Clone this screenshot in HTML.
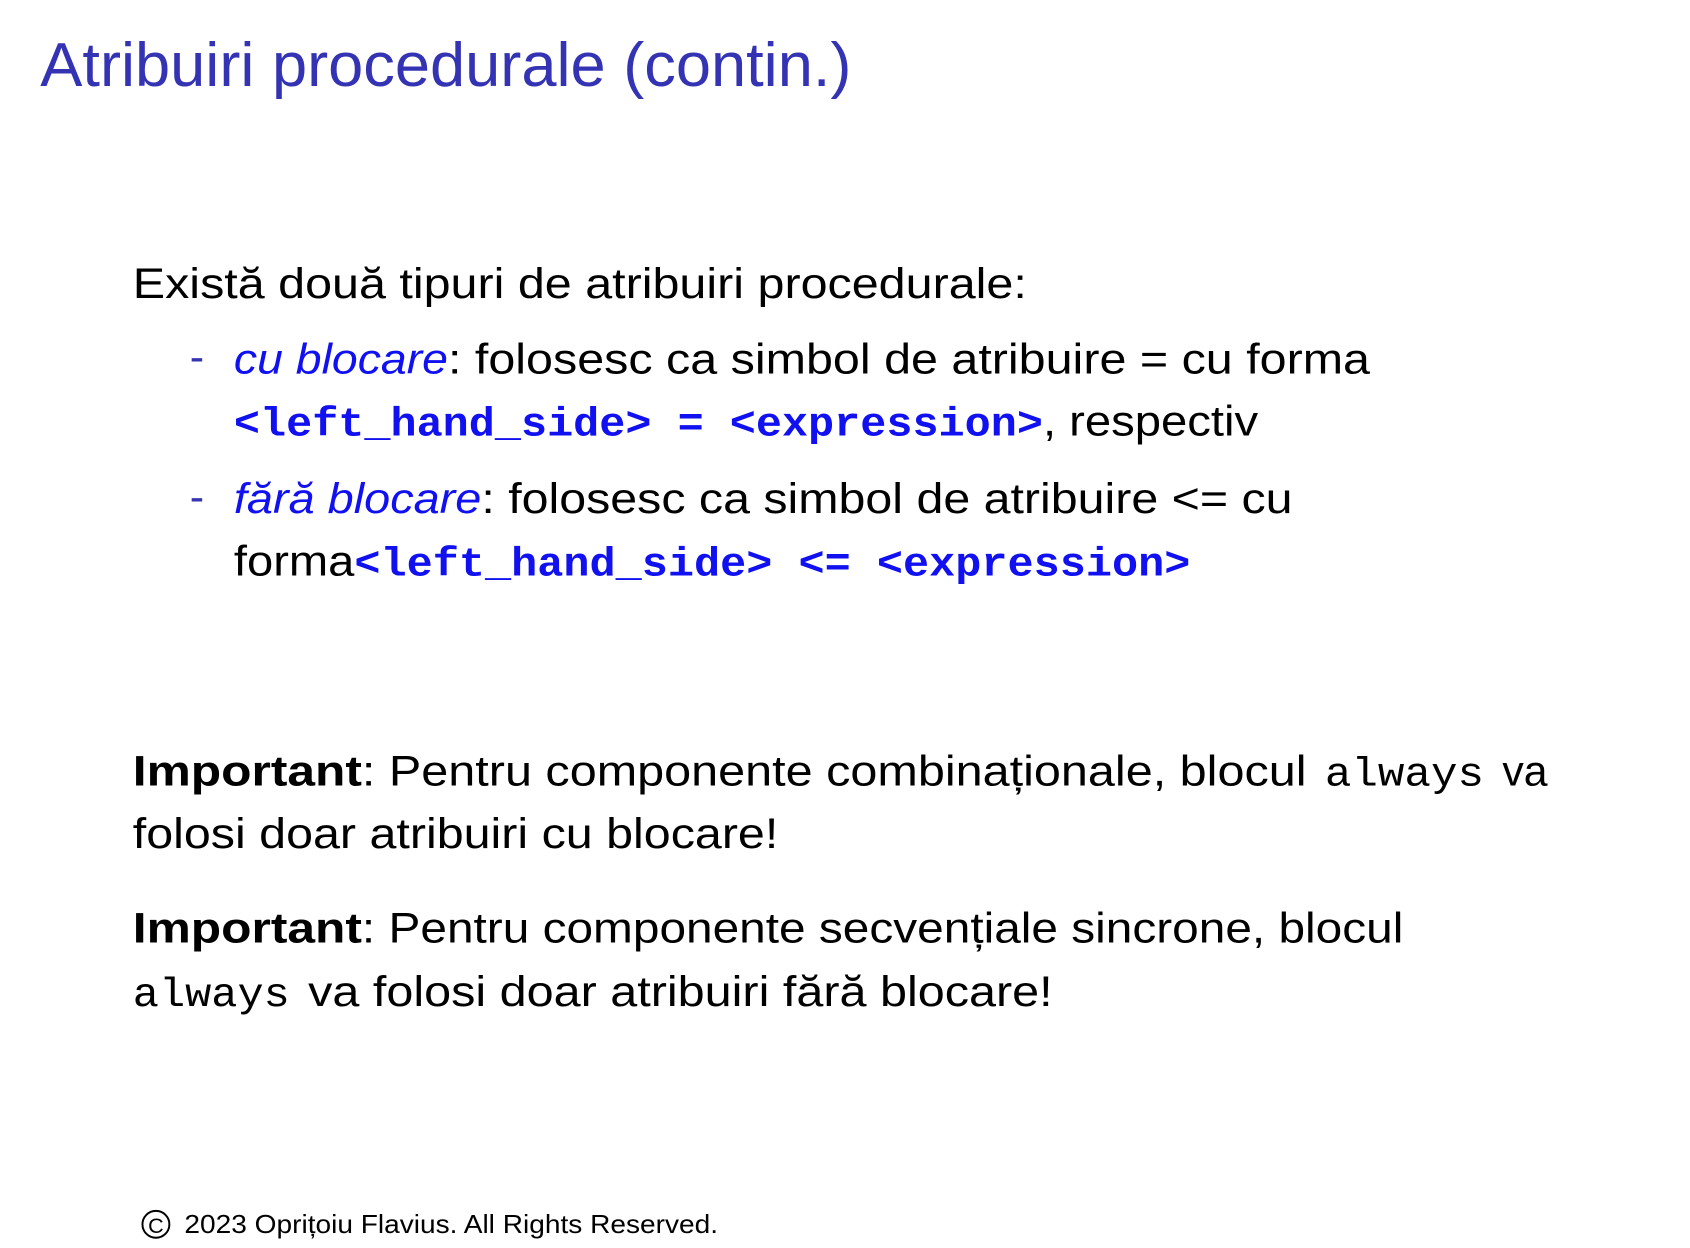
<!DOCTYPE html>
<html><head><meta charset="utf-8"><style>
html,body{margin:0;padding:0;background:#fff;}
svg{display:block;}
.s{font-family:"Liberation Sans",sans-serif;fill:#000;}
.m{font-family:"Liberation Mono",monospace;font-weight:bold;}
.b{fill:#1010f0;}
</style></head><body>
<svg width="1690" height="1248" viewBox="0 0 1568 1160" xmlns="http://www.w3.org/2000/svg">
<rect width="1568" height="1160" fill="#fff"/>
<text class="s" x="36" y="80" font-size="58" style="fill:#3333b3" textLength="754" lengthAdjust="spacingAndGlyphs">Atribuiri procedurale (contin.)</text>

<text class="s" x="122" y="277" font-size="40" textLength="831" lengthAdjust="spacingAndGlyphs">Există două tipuri de atribuiri procedurale:</text>

<text class="s" x="175" y="345" font-size="40" style="fill:#3333b3">-</text>
<text class="s b" x="216" y="347" font-size="40" font-style="italic" textLength="199" lengthAdjust="spacingAndGlyphs">cu blocare</text>
<text class="s" x="415" y="347" font-size="40" textLength="857" lengthAdjust="spacingAndGlyphs">:  folosesc ca simbol de atribuire = cu forma</text>

<text class="s m b" x="216" y="405" font-size="38" textLength="752" lengthAdjust="spacingAndGlyphs">&lt;left_hand_side&gt; = &lt;expression&gt;</text>
<text class="s" x="968" y="405" font-size="40" textLength="200" lengthAdjust="spacingAndGlyphs">, respectiv</text>

<text class="s" x="175" y="475" font-size="40" style="fill:#3333b3">-</text>
<text class="s b" x="216" y="477" font-size="40" font-style="italic" textLength="230" lengthAdjust="spacingAndGlyphs">fără blocare</text>
<text class="s" x="446" y="477" font-size="40" textLength="754" lengthAdjust="spacingAndGlyphs">:  folosesc ca simbol de atribuire &lt;= cu</text>

<text class="s" x="216" y="535" font-size="40" textLength="112" lengthAdjust="spacingAndGlyphs">forma</text>
<text class="s m b" x="328" y="535" font-size="38" textLength="777" lengthAdjust="spacingAndGlyphs">&lt;left_hand_side&gt; &lt;= &lt;expression&gt;</text>

<text class="s" x="122" y="730" font-size="40" font-weight="bold" textLength="213" lengthAdjust="spacingAndGlyphs">Important</text>
<text class="s" x="335" y="730" font-size="40" textLength="878" lengthAdjust="spacingAndGlyphs">:  Pentru componente combinaționale, blocul</text>
<text class="s m" x="1230" y="730" font-size="38" style="font-weight:normal" textLength="148" lengthAdjust="spacingAndGlyphs">always</text>
<text class="s" x="1395" y="730" font-size="40" textLength="42" lengthAdjust="spacingAndGlyphs">va</text>
<text class="s" x="122" y="788" font-size="40" textLength="600" lengthAdjust="spacingAndGlyphs">folosi doar atribuiri cu blocare!</text>

<text class="s" x="122" y="876" font-size="40" font-weight="bold" textLength="213" lengthAdjust="spacingAndGlyphs">Important</text>
<text class="s" x="335" y="876" font-size="40" textLength="968" lengthAdjust="spacingAndGlyphs">:  Pentru componente secvențiale sincrone, blocul</text>
<text class="s m" x="122" y="935" font-size="38" style="font-weight:normal" textLength="146" lengthAdjust="spacingAndGlyphs">always</text>
<text class="s" x="285" y="935" font-size="40" textLength="692" lengthAdjust="spacingAndGlyphs">va folosi doar atribuiri fără blocare!</text>

<circle cx="143.5" cy="1138" r="12.5" fill="none" stroke="#000" stroke-width="1.8"/>
<text class="s" x="143.5" y="1146" font-size="20" text-anchor="middle">C</text>
<text class="s" x="170" y="1146" font-size="24" textLength="496" lengthAdjust="spacingAndGlyphs">2023 Oprițoiu Flavius.  All Rights Reserved.</text>
</svg>
</body></html>
